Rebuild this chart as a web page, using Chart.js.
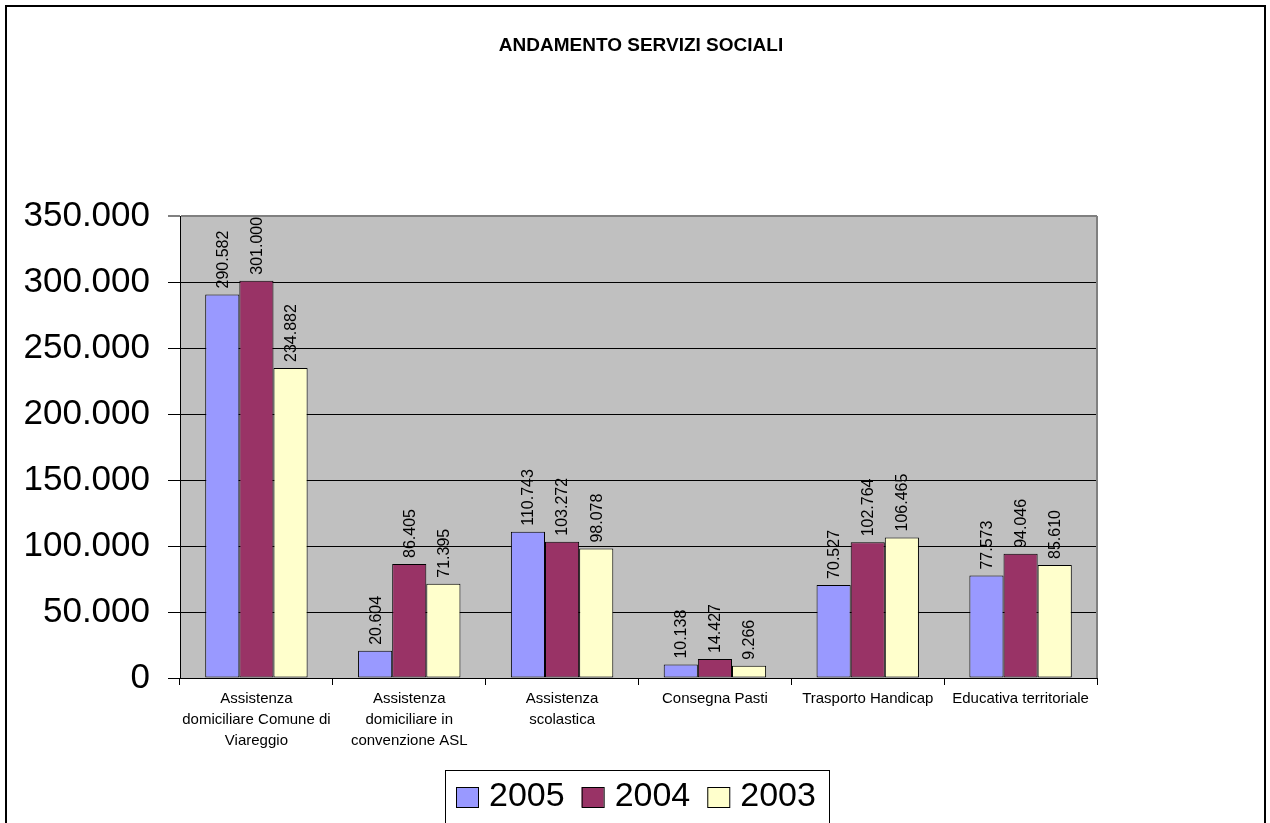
<!DOCTYPE html>
<html>
<head>
<meta charset="utf-8">
<script src="https://cdn.jsdelivr.net/npm/chart.js@4.4.1/dist/chart.umd.min.js"></script>
<style>
  html, body { margin: 0; padding: 0; background: #ffffff; overflow: hidden; }
  canvas { display: block; }
</style>
</head>
<body>
<canvas id="c" width="1270" height="823"></canvas>
<script>
// ---- Data ----
const categories = [
  ['Assistenza', 'domiciliare Comune di', 'Viareggio'],
  ['Assistenza', 'domiciliare in', 'convenzione ASL'],
  ['Assistenza', 'scolastica'],
  'Consegna Pasti',
  'Trasporto Handicap',
  'Educativa territoriale'
];
const seriesNames = ['2005', '2004', '2003'];
const values2005 = [290582, 20604, 110743, 10138, 70527, 77573];
const values2004 = [301000, 86405, 103272, 14427, 102764, 94046];
const values2003 = [234882, 71395, 98078, 9266, 106465, 85610];
const yTicks = [0, 50000, 100000, 150000, 200000, 250000, 300000, 350000];
const chartTitle = 'ANDAMENTO SERVIZI SOCIALI';

const colors = ['#9999FF', '#993366', '#FFFFCC'];
const FONT = '"Liberation Sans", Arial, Helvetica, sans-serif';

function fmt(v) {
  return String(v).replace(/\B(?=(\d{3})+(?!\d))/g, '.');
}

const framePlugin = {
  id: 'frame',
  beforeDraw(chart) {
    const { ctx, chartArea: a } = chart;
    ctx.save();
    ctx.fillStyle = '#ffffff';
    ctx.fillRect(0, 0, chart.width, chart.height);
    ctx.fillStyle = '#C0C0C0';
    ctx.fillRect(a.left, a.top, a.right - a.left, a.bottom - a.top);
    ctx.restore();
  },
  afterDraw(chart) {
    const { ctx, chartArea: a } = chart;
    ctx.save();
    // plot border right (gray)
    ctx.strokeStyle = '#808080';
    ctx.lineWidth = 2;
    ctx.beginPath();
    ctx.moveTo(a.right, a.top);
    ctx.lineTo(a.right, a.bottom);
    ctx.stroke();
    // outer frame
    ctx.strokeStyle = '#000000';
    ctx.lineWidth = 2;
    ctx.strokeRect(6, 6, 1259, 840);
    // title
    ctx.fillStyle = '#000';
    ctx.font = 'bold 19px ' + FONT;
    ctx.textAlign = 'center';
    ctx.textBaseline = 'middle';
    ctx.fillText(chartTitle, 641, 46);
    // legend
    const boxX = 445, boxY = 770, boxW = 384;
    ctx.strokeStyle = '#000';
    ctx.lineWidth = 1;
    ctx.strokeRect(boxX + 0.5, boxY + 0.5, boxW, 100);
    ctx.font = '34px ' + FONT;
    ctx.textAlign = 'left';
    let x = 456;
    chart.data.datasets.forEach(ds => {
      ctx.fillStyle = ds.backgroundColor;
      ctx.fillRect(x, 787, 22, 20);
      ctx.strokeStyle = '#000';
      ctx.strokeRect(x + 0.5, 787.5, 22, 20);
      ctx.fillStyle = '#000';
      ctx.fillText(ds.label, x + 33, 797);
      x += 33 + ctx.measureText(ds.label).width + 17;
    });
    ctx.restore();
  },
  afterDatasetsDraw(chart) {
    const { ctx } = chart;
    ctx.save();
    ctx.fillStyle = '#000';
    ctx.font = '16px ' + FONT;
    ctx.textAlign = 'left';
    ctx.textBaseline = 'middle';
    chart.data.datasets.forEach((ds, i) => {
      const meta = chart.getDatasetMeta(i);
      meta.data.forEach((bar, j) => {
        ctx.save();
        ctx.translate(bar.x + 1, bar.y - 6);
        ctx.rotate(-Math.PI / 2);
        ctx.fillText(fmt(ds.data[j]), 0, 0);
        ctx.restore();
      });
    });
    ctx.restore();
  }
};

const datasets = [values2005, values2004, values2003].map((vals, i) => ({
  label: seriesNames[i],
  data: vals,
  backgroundColor: colors[i],
  borderColor: '#000000',
  borderWidth: 1,
  borderSkipped: false,
  categoryPercentage: 0.67,
  barPercentage: 1.0
}));

new Chart(document.getElementById('c'), {
  type: 'bar',
  data: { labels: categories, datasets },
  options: {
    responsive: false,
    animation: false,
    devicePixelRatio: 1,
    layout: { padding: { top: 216, left: 0, right: 173, bottom: 65 } },
    plugins: {
      legend: { display: false },
      title: { display: false },
      tooltip: { enabled: false }
    },
    scales: {
      x: {
        offset: true,
        grid: {
          offset: true,
          drawOnChartArea: false,
          drawTicks: true,
          tickLength: 7,
          color: '#000000'
        },
        border: { color: '#000000', width: 1 },
        ticks: {
          autoSkip: false,
          maxRotation: 0,
          minRotation: 0,
          padding: 3,
          color: '#000000',
          font: { family: FONT, size: 15, lineHeight: 1.4 }
        },
        afterFit(scale) { scale.height = 80; }
      },
      y: {
        min: 0,
        max: 350000,
        afterBuildTicks(scale) { scale.ticks = yTicks.map(v => ({ value: v })); },
        grid: {
          color: (c) => (c.tick && c.tick.value === 350000 ? '#808080' : '#000000'),
          lineWidth: (c) => (c.tick && c.tick.value === 350000 ? 2 : 1),
          tickLength: 12,
          drawTicks: true
        },
        border: { color: '#000000', width: 1 },
        ticks: {
          padding: 18,
          color: '#000000',
          font: { family: FONT, size: 35 },
          callback: (v) => fmt(v)
        },
        afterFit(scale) { scale.width = 180; }
      }
    }
  },
  plugins: [framePlugin]
});
</script>
</body>
</html>
